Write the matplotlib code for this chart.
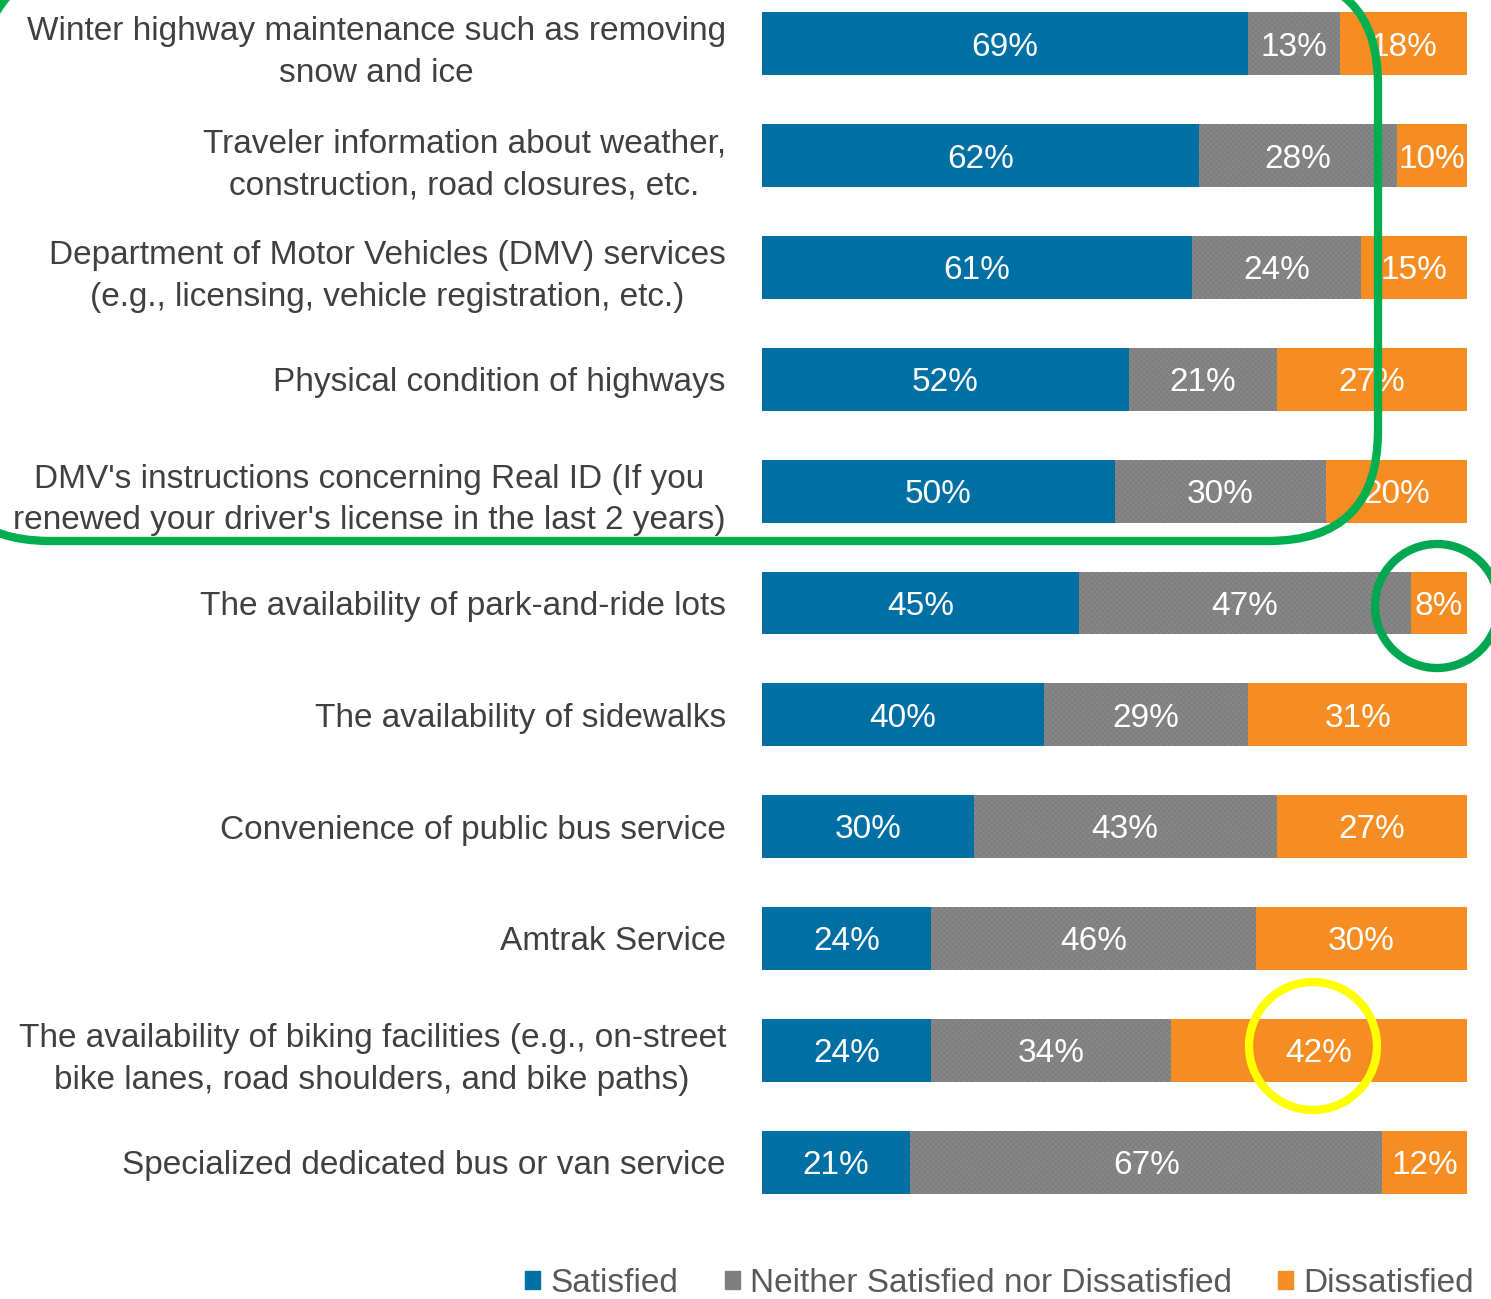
import matplotlib
matplotlib.use("Agg")
import matplotlib.pyplot as plt
from matplotlib.patches import Patch, Circle, FancyBboxPatch

plt.rcParams['font.family'] = ['Liberation Sans', 'DejaVu Sans']
plt.rcParams['hatch.linewidth'] = 0.4

categories = [
    "Winter highway maintenance such as removing\nsnow and ice",
    "Traveler information about weather,\nconstruction, road closures, etc.",
    "Department of Motor Vehicles (DMV) services\n(e.g., licensing, vehicle registration, etc.)",
    "Physical condition of highways",
    "DMV's instructions concerning Real ID (If you\nrenewed your driver's license in the last 2 years)",
    "The availability of park-and-ride lots",
    "The availability of sidewalks",
    "Convenience of public bus service",
    "Amtrak Service",
    "The availability of biking facilities (e.g., on-street\nbike lanes, road shoulders, and bike paths)",
    "Specialized dedicated bus or van service",
]
satisfied = [69, 62, 61, 52, 50, 45, 40, 30, 24, 24, 21]
neither = [13, 28, 24, 21, 30, 47, 29, 43, 46, 34, 67]
dissatisfied = [18, 10, 15, 27, 20, 8, 31, 27, 30, 42, 12]
series_names = ["Satisfied", "Neither Satisfied nor Dissatisfied", "Dissatisfied"]

blue = "#006FA3"
gray = "#7F7F7F"
orange = "#F68D22"
text_col = "#404040"

W, H = 1491, 1299
fig = plt.figure(figsize=(W / 100, H / 100), dpi=100)
ax = fig.add_axes([762 / W, 1 - 1218 / H, 705 / W, 1218 / H])

ypos = list(range(len(categories)))
left2 = [s for s in satisfied]
left3 = [s + n for s, n in zip(satisfied, neither)]
bh = 0.5625
ax.barh(ypos, satisfied, height=bh, color=blue, linewidth=0)
ax.barh(ypos, neither, left=left2, height=bh, color=gray, edgecolor="#8c8c8c",
        linewidth=0, hatch="xxxxxx")
ax.barh(ypos, dissatisfied, left=left3, height=bh, color=orange, linewidth=0)

for i in ypos:
    starts = [0, left2[i], left3[i]]
    vals = [satisfied[i], neither[i], dissatisfied[i]]
    for s, v in zip(starts, vals):
        ax.text(s + v / 2, i + 0.03, f"{v}%", ha="center", va="center",
                color="white", fontsize=24)

ax.set_xlim(0, 100)
ax.set_ylim(10 + 56 / 112, -44 / 112)
ax.set_yticks(ypos)
ax.set_yticklabels(categories, fontsize=24, color=text_col,
                   multialignment="center", linespacing=1.45)
ax.tick_params(axis="y", length=0, pad=26)
ax.set_xticks([])
for sp in ax.spines.values():
    sp.set_visible(False)

handles = [Patch(color=c) for c in (blue, gray, orange)]
fig.legend(handles, series_names, loc="center right", ncol=3,
           bbox_to_anchor=(1474 / W, 1 - 1283 / H), frameon=False,
           fontsize=24, labelcolor="#595959", handlelength=0.45, handleheight=0.45,
           handletextpad=0.3, columnspacing=1.4, borderpad=0, borderaxespad=0)

# highlight annotations over the whole figure
ov = fig.add_axes([0, 0, 1, 1], facecolor="none")
ov.set_xlim(0, W)
ov.set_ylim(H, 0)
ov.axis("off")
ov.add_patch(FancyBboxPatch((-60, -25), 1438, 566,
                            boxstyle="round,pad=0,rounding_size=110",
                            fill=False, edgecolor="#00B050", linewidth=6))
ov.add_patch(Circle((1437, 606), 62, fill=False, edgecolor="#00A650", linewidth=6))
ov.add_patch(Circle((1313, 1046), 64, fill=False, edgecolor="#FFFF00", linewidth=6))

fig.savefig("out.png", dpi=100)
